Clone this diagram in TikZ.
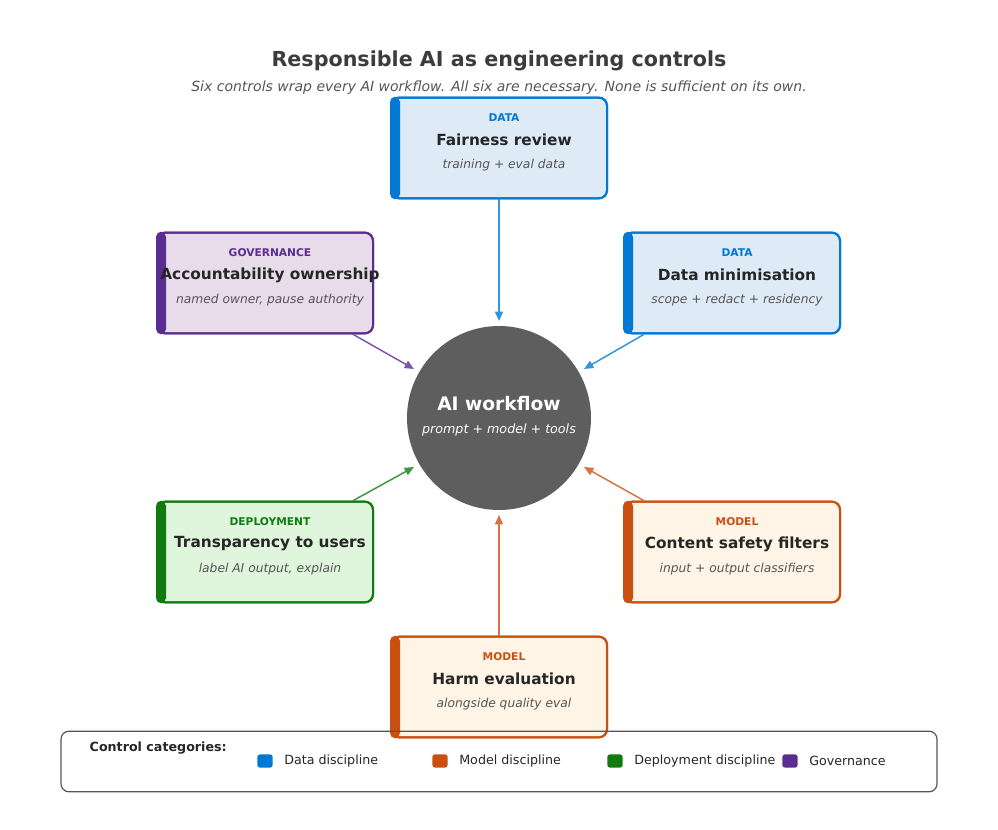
\documentclass[tikz,border=0pt]{standalone}
\usepackage{fontspec}
\setmainfont{DejaVu Sans}
\usetikzlibrary{calc}
\usetikzlibrary{positioning}
\usetikzlibrary{arrows.meta}

\definecolor{dataC}{HTML}{0078D4}
\definecolor{dataF}{HTML}{DEEBF7}
\definecolor{govC}{HTML}{5C2D91}
\definecolor{govF}{HTML}{E8DCEB}
\definecolor{depC}{HTML}{107C10}
\definecolor{depF}{HTML}{DFF6DD}
\definecolor{modC}{HTML}{CA5010}
\definecolor{modF}{HTML}{FFF4E6}
\definecolor{hubC}{HTML}{5E5E5E}
\definecolor{inkC}{HTML}{262626}
\definecolor{subC}{HTML}{555555}

% one control box: name, position, line colour, fill, category, title, detail
\newcommand{\ctrlbox}[7]{
    \node [ctrl, draw=#3, fill=#4] (#1) at (#2) {};
    \fill [#3, rounded corners=4] (#1.north west) rectangle ($(#1.south west)+(10,0)$);
    \node [ctrl, draw=#3] at (#2) {};
    \node [cat, text=#3] at ($(#1)+(5,-30)$) {#5};
    \node [ttl] at ($(#1)+(5,-8)$) {#6};
    \node [dtl] at ($(#1)+(5,17)$) {#7};
}

\begin{document}
\begin{tikzpicture}[
    x=0.75pt, y=-0.75pt,
    ctrl/.style={
        rectangle,
        rounded corners=6,
        line width=1.5pt,
        minimum width=162pt,
        minimum height=75.5pt,
        },
    cat/.style={
        font=\bfseries\fontsize{8}{9}\selectfont
        },
    ttl/.style={
        font=\bfseries\fontsize{11.5}{13}\selectfont,
        text=inkC
        },
    dtl/.style={
        font=\itshape\fontsize{9.2}{11}\selectfont,
        text=subC
        },
    feed/.style={
        -{Triangle[length=7pt,width=6pt]},
        line width=1.1pt,
        },
    key/.style={
        rectangle,
        rounded corners=2,
        minimum width=11.5pt,
        minimum height=10pt,
        inner sep=0pt
        },
    keytext/.style={
        font=\fontsize{9.5}{11}\selectfont,
        text=inkC,
        anchor=west
        },
    ]

    \useasboundingbox (0,0) rectangle (998,830);

    \node [font=\bfseries\fontsize{15.5}{18}\selectfont, text=inkC!90] (title) at (499,61) {Responsible AI as engineering controls};
    \node [font=\itshape\fontsize{10.5}{12}\selectfont, text=subC] (subtitle) at (499,88) {Six controls wrap every AI workflow. All six are necessary. None is sufficient on its own.};

    \node [circle, fill=hubC, minimum size=138pt, inner sep=0pt] (hub) at (499,418) {};
    \node [font=\bfseries\fontsize{14}{16}\selectfont, text=white] at (499,404) {AI workflow};
    \node [font=\itshape\fontsize{9.5}{11}\selectfont, text=white] at (499,430) {prompt + model + tools};

    \ctrlbox{fair}{499,148}{dataC}{dataF}{DATA}{Fairness review}{training + eval data}
    \ctrlbox{acct}{265,283}{govC}{govF}{GOVERNANCE}{Accountability ownership}{named owner, pause authority}
    \ctrlbox{mini}{732,283}{dataC}{dataF}{DATA}{Data minimisation}{scope + redact + residency}
    \ctrlbox{trans}{265,552}{depC}{depF}{DEPLOYMENT}{Transparency to users}{label AI output, explain}
    \ctrlbox{safe}{732,552}{modC}{modF}{MODEL}{Content safety filters}{input + output classifiers}
    \ctrlbox{harm}{499,687}{modC}{modF}{MODEL}{Harm evaluation}{alongside quality eval}

    \coordinate (inT) at (499,321);
    \coordinate (inTL) at (414,369);
    \coordinate (inTR) at (584,369);
    \coordinate (inBL) at (414,467);
    \coordinate (inBR) at (584,467);
    \coordinate (inB) at (499,515);

    \draw [feed, dataC!80] (fair.south) -- (inT);
    \draw [feed, govC!80] ($(acct.south)+(88,0)$) -- (inTL);
    \draw [feed, dataC!80] ($(mini.south)+(-88,0)$) -- (inTR);
    \draw [feed, depC!80] ($(trans.north)+(88,0)$) -- (inBL);
    \draw [feed, modC!80] ($(safe.north)+(-88,0)$) -- (inBR);
    \draw [feed, modC!80] (harm.north) -- (inB);

    \node [rectangle, draw=subC, line width=0.9pt, rounded corners=6, minimum width=657pt, minimum height=45.5pt] (legend) at (499,761.5) {};
    \node [font=\bfseries\fontsize{9.5}{11}\selectfont, text=inkC, anchor=west] (legtitle) at (85,748) {Control categories:};
    \node [key, fill=dataC] (k1) at (265,761) {};
    \node [keytext, right=5pt of k1] {Data discipline};
    \node [key, fill=modC] (k2) at (440,761) {};
    \node [keytext, right=5pt of k2] {Model discipline};
    \node [key, fill=depC] (k3) at (615,761) {};
    \node [keytext, right=5pt of k3] {Deployment discipline};
    \node [key, fill=govC] (k4) at (790,761) {};
    \node [keytext, right=5pt of k4] {Governance};

\end{tikzpicture}
\end{document}
